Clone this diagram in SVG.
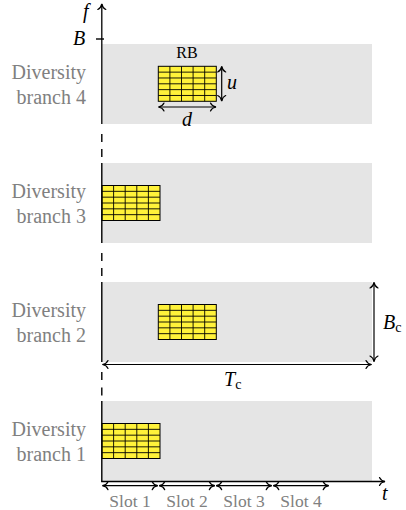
<svg xmlns="http://www.w3.org/2000/svg" xmlns:xlink="http://www.w3.org/1999/xlink" width="406" height="510" viewBox="0 0 406 510">
<style>
.band{fill:#e5e5e5}
.lbl{font-family:"Liberation Serif","DejaVu Serif",serif;font-size:20px;fill:#808080;text-anchor:end}
.slot{font-family:"Liberation Serif","DejaVu Serif",serif;font-size:17.5px;fill:#808080;text-anchor:middle}
.math{font-family:"Liberation Serif","DejaVu Serif",serif;font-style:italic;font-size:20px;fill:#000}
.rm{font-family:"Liberation Serif","DejaVu Serif",serif;font-size:16px;fill:#000}
.ax{stroke:#000;stroke-width:1.4;fill:none}
.ar{stroke:#000;stroke-width:1.2;fill:none;marker-end:url(#tip);marker-start:url(#tip)}
.ar1{stroke:#000;stroke-width:1.3;fill:none;marker-end:url(#tip)}
</style>
<defs>
<marker id="tip" markerUnits="userSpaceOnUse" viewBox="-7 -5 8 10" markerWidth="8" markerHeight="10" refX="0" refY="0" orient="auto-start-reverse" overflow="visible">
<path d="M-5.5,-4 C-4.5,-1.6 -1.8,-0.4 0,0 C-1.8,0.4 -4.5,1.6 -5.5,4" fill="none" stroke="#000" stroke-width="1.2" stroke-linecap="round"/>
</marker>
<g id="grid">
<rect x="0" y="0" width="58" height="35" fill="#fff23a" stroke="#000" stroke-width="1"/>
<path d="M11.6,0V35M23.2,0V35M34.8,0V35M46.4,0V35M0,5.83H58M0,11.67H58M0,17.5H58M0,23.33H58M0,29.17H58" stroke="#000" stroke-width="0.9" fill="none"/>
</g>
</defs>

<g id="branch4">
<rect class="band" x="102" y="44" width="270" height="80"/>
<use xlink:href="#grid" x="158.3" y="66.3"/>
<text class="lbl" x="86" y="79">Diversity</text>
<text class="lbl" x="86" y="104">branch 4</text>
<text class="rm" x="187" y="58" text-anchor="middle">RB</text>
<text class="math" x="227" y="89">u</text>
<text class="math" x="187" y="126" text-anchor="middle">d</text>
</g>

<g id="branch3">
<rect class="band" x="102" y="163" width="270" height="80"/>
<use xlink:href="#grid" x="102" y="185.5"/>
<text class="lbl" x="86" y="198">Diversity</text>
<text class="lbl" x="86" y="223">branch 3</text>
</g>

<g id="branch2">
<rect class="band" x="102" y="282" width="270" height="80"/>
<use xlink:href="#grid" x="158.3" y="304.5"/>
<text class="lbl" x="86" y="317">Diversity</text>
<text class="lbl" x="86" y="342">branch 2</text>
</g>

<g id="branch1">
<rect class="band" x="102" y="401" width="270" height="80"/>
<use xlink:href="#grid" x="102" y="423.5"/>
<text class="lbl" x="86" y="436">Diversity</text>
<text class="lbl" x="86" y="461">branch 1</text>
</g>

<g id="labels">
<text class="math" x="83" y="18">f</text>
<text class="math" x="73" y="45">B</text>
<text class="math" x="224" y="386">T<tspan font-style="normal" font-size="14" dy="3">c</tspan></text>
<text class="math" x="383" y="329">B<tspan font-style="normal" font-size="14" dy="3">c</tspan></text>
<text class="math" x="382" y="500">t</text>
<text class="slot" x="130" y="507">Slot 1</text>
<text class="slot" x="187" y="507">Slot 2</text>
<text class="slot" x="244" y="507">Slot 3</text>
<text class="slot" x="301" y="507">Slot 4</text>
</g>

<g id="connectors">
<path class="ax" d="M101.8,134V142M101.8,149V157"/>
<path class="ax" d="M101.8,253V261M101.8,268V276"/>
<path class="ax" d="M101.8,372V380M101.8,387.5V395.5"/>
<path class="ax" d="M101.8,163V243M101.8,282V362M101.8,401V481.5"/>
<path class="ar1" d="M101.8,124V4"/>
<path class="ax" d="M96,39H104"/>
<path class="ar1" d="M101.1,481.5H385"/>
<path class="ar" d="M221.7,66.5V101"/>
<path class="ar" d="M158.5,107H216"/>
<path class="ar" d="M374,282.5V361.5"/>
<path class="ar" d="M102.5,364.5H371.5"/>
<path class="ar" d="M102.5,485.7H157.7"/>
<path class="ar" d="M159.2,485.7H214.8"/>
<path class="ar" d="M216.2,485.7H271.7"/>
<path class="ar" d="M273.3,485.7H328.7"/>
</g>
</svg>
